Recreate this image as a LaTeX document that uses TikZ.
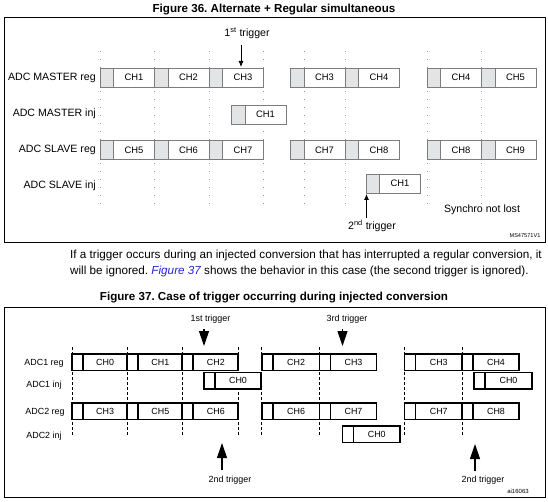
\documentclass[tikz,border=0pt]{standalone}
\usepackage{fontspec}
\setmainfont{Liberation Sans}
\usetikzlibrary{arrows.meta}
\frenchspacing
\definecolor{cellgray}{HTML}{E3E4E5}
\definecolor{edgegray}{HTML}{7C7C7C}
\definecolor{dotgray}{HTML}{9A9A9A}
\definecolor{linkblue}{HTML}{2222DD}

% Figure 36 cell: name, x, ytop, label
\newcommand\cellA[4]{%
  \node[g36, anchor=north west] (#1g) at (#2,#3) {};
  \node[w36, anchor=north west] (#1) at (#2+13.5,#3) {#4};
}
% Figure 37 cell: name, x, ytop, width, label
\newcommand\cellB[5]{%
  \node[w37, anchor=north west, minimum width=#4] (#1) at (#2,#3) {};
  \draw[b37] (#2+11,#3) -- ++(0,16.5);
  \node[t37] (#1t) at ({#2+11+(#4-11)/2},#3+8.25) {#5};
}

\begin{document}
\begin{tikzpicture}[x=1pt,y=-1pt,
  g36/.style={draw=edgegray, fill=cellgray, line width=0.9pt, minimum width=13.5pt, minimum height=19pt, inner sep=0pt, outer sep=0pt},
  w36/.style={draw=edgegray, fill=white, line width=0.9pt, minimum width=41pt, minimum height=19pt, inner sep=0pt, outer sep=0pt, font=\fontsize{9.4}{10}\selectfont},
  lab36/.style={anchor=east, inner sep=0pt, font=\fontsize{10.6}{12}\selectfont},
  txt36/.style={inner sep=0pt, font=\fontsize{10.6}{12}\selectfont},
  dot36/.style={dotgray, line width=0.7pt, dash pattern=on 0.8pt off 7.2pt},
  arr36/.style={line width=0.8pt, -{Latex[length=6pt,width=5pt]}},
  w37/.style={draw=black, fill=white, line width=1.7pt, minimum height=16.5pt, inner sep=0pt, outer sep=0pt, line join=miter},
  b37/.style={draw=black, line width=1.7pt},
  t37/.style={inner sep=0pt, font=\fontsize{8.9}{10}\selectfont},
  lab37/.style={inner sep=0pt, font=\fontsize{8.9}{10}\selectfont},
  dash37/.style={black, line width=0.8pt, dash pattern=on 2.6pt off 2.4pt},
  arr37/.style={line width=1.1pt, -{Triangle[length=15pt,width=10pt]}},
  ttl/.style={inner sep=0pt, font=\fontsize{11.6}{13}\selectfont\bfseries},
  par/.style={inner sep=0pt, anchor=west, font=\fontsize{11.7}{14}\selectfont}
]
\useasboundingbox (0,0) rectangle (548,502);
\fill[white] (0,0) rectangle (548,502);

% ================= Figure 36 =================
\node[ttl] (title36) at (274,10) {Figure 36. Alternate + Regular simultaneous};
\node[draw=black, line width=1pt, minimum width=541pt, minimum height=225pt, anchor=north west, inner sep=0pt, outer sep=0pt] (frame36) at (4,18) {};

\foreach \x in {100,154.5,209,263.5,304,345,427,481.5}
  \draw[dot36] (\x,51) -- (\x,205);

\node[lab36] (lmr) at (96,77.5) {ADC MASTER reg};
\node[lab36] (lmi) at (96,114) {ADC MASTER inj};
\node[lab36] (lsr) at (96,150) {ADC SLAVE reg};
\node[lab36] (lsi) at (96,186) {ADC SLAVE inj};

\cellA{m1}{100}{68}{CH1}
\cellA{m2}{154.5}{68}{CH2}
\cellA{m3}{209}{68}{CH3}
\cellA{m4}{290.5}{68}{CH3}
\cellA{m5}{345}{68}{CH4}
\cellA{m6}{427}{68}{CH4}
\cellA{m7}{481.5}{68}{CH5}

\cellA{mi}{231.5}{105}{CH1}

\cellA{s1}{100}{140.5}{CH5}
\cellA{s2}{154.5}{140.5}{CH6}
\cellA{s3}{209}{140.5}{CH7}
\cellA{s4}{290.5}{140.5}{CH7}
\cellA{s5}{345}{140.5}{CH8}
\cellA{s6}{427}{140.5}{CH8}
\cellA{s7}{481.5}{140.5}{CH9}

\cellA{si}{366}{174}{CH1}

\node[txt36] (trig1) at (247,33) {1\textsuperscript{st} trigger};
\coordinate (trig1s) at (241,45);
\coordinate (trig1e) at (241,67);
\draw[arr36] (trig1s) -- (trig1e);

\node[txt36] (trig2) at (372,226) {2\textsuperscript{nd} trigger};
\coordinate (trig2s) at (366.5,218);
\coordinate (trig2e) at (366.5,194);
\draw[arr36] (trig2s) -- (trig2e);

\node[txt36] (synchro) at (482,210) {Synchro not lost};
\node[inner sep=0pt, font=\fontsize{5.6}{6}\selectfont] (ms) at (525,236) {MS47571V1};

% ================= Paragraph =================
\node[par] (p1) at (70,255) {If a trigger occurs during an injected conversion that has interrupted a regular conversion, it};
\node[par] (p2) at (70,271) {will be ignored. {\color{linkblue}\itshape Figure 37} shows the behavior in this case (the second trigger is ignored).};

% ================= Figure 37 =================
\node[ttl] (title37) at (274,298) {Figure 37. Case of trigger occurring during injected conversion};
\node[draw=black, line width=1pt, minimum width=541pt, minimum height=190pt, anchor=north west, inner sep=0pt, outer sep=0pt] (frame37) at (4,307) {};

\foreach \x in {72,127.3,182.3,238.3,261.7,319.5,404.5,462}
  \draw[dash37] (\x,347) -- (\x,436);

\node[lab37] (a1r) at (44,363) {ADC1 reg};
\node[lab37] (a1i) at (44,385) {ADC1 inj};
\node[lab37] (a2r) at (45,412) {ADC2 reg};
\node[lab37] (a2i) at (44,436) {ADC2 inj};

\cellB{r1}{72}{354}{55.3}{CH0}
\cellB{r2}{127.3}{354}{55}{CH1}
\cellB{r3}{182.3}{354}{56}{CH2}
\cellB{r4}{261.7}{354}{57.8}{CH2}
\cellB{r5}{319.5}{354}{57}{CH3}
\cellB{r6}{404.5}{354}{57.5}{CH3}
\cellB{r7}{462}{354}{57}{CH4}

\cellB{i1}{204}{372.5}{57}{CH0}
\cellB{i2}{474}{372.5}{58}{CH0}

\cellB{q1}{72}{403}{55.3}{CH3}
\cellB{q2}{127.3}{403}{55}{CH5}
\cellB{q3}{182.3}{403}{56}{CH6}
\cellB{q4}{261.7}{403}{57.8}{CH6}
\cellB{q5}{319.5}{403}{57}{CH7}
\cellB{q6}{404.5}{403}{57.5}{CH7}
\cellB{q7}{462}{403}{57}{CH8}

\cellB{j1}{342.5}{426}{57.5}{CH0}

\node[lab37] (tr1) at (210.5,319) {1st trigger};
\node[lab37] (tr3) at (347,319) {3rd trigger};
\coordinate (tr1s) at (204,329);
\coordinate (tr1e) at (204,346);
\coordinate (tr3s) at (342.5,329);
\coordinate (tr3e) at (342.5,346);
\draw[arr37] (tr1s) -- (tr1e);
\draw[arr37] (tr3s) -- (tr3e);

\node[lab37] (tr2a) at (230,480) {2nd trigger};
\node[lab37] (tr2b) at (483,480) {2nd trigger};
\coordinate (tr2as) at (222,470);
\coordinate (tr2ae) at (222,443);
\coordinate (tr2bs) at (475,471);
\coordinate (tr2be) at (475,444);
\draw[arr37] (tr2as) -- (tr2ae);
\draw[arr37] (tr2bs) -- (tr2be);

\node[inner sep=0pt, font=\fontsize{6}{7}\selectfont] (ai) at (518,491) {ai16063};
\end{tikzpicture}
\end{document}
